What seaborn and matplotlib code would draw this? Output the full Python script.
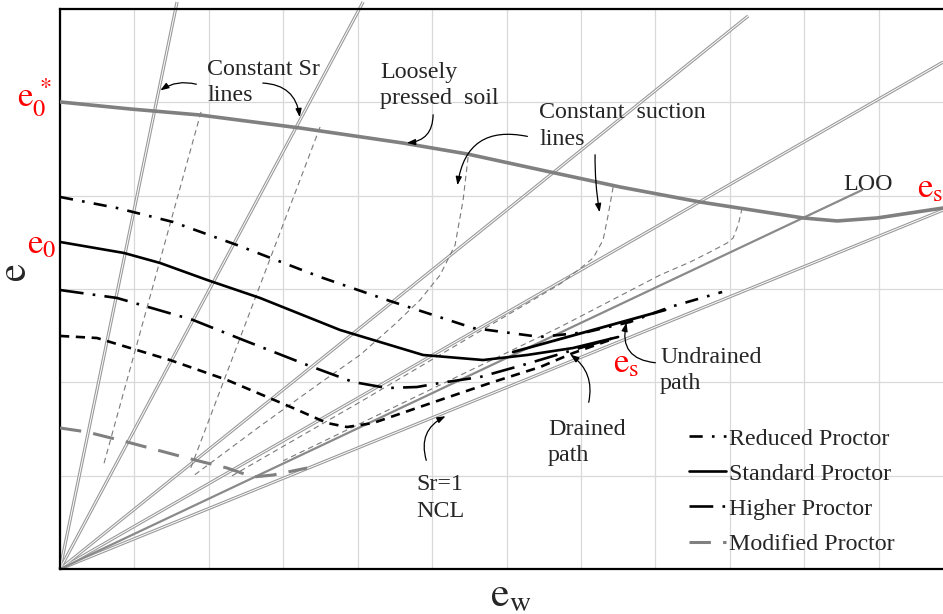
import numpy as np
import pandas as pd
import matplotlib
matplotlib.use("Agg")
import matplotlib.pyplot as plt
import seaborn as sns
from matplotlib.lines import Line2D

sns.set_style("white")
plt.rcParams['font.family'] = ['Liberation Serif', 'DejaVu Serif']
plt.rcParams['mathtext.fontset'] = 'stix'

# ---------------- data (chart units: e_w on x 0..12, e on y 0..6) ----------------
# constant Sr rays from the origin (end points)
sr_end_x = [1.573, 4.073, 9.247, 11.868]
sr_end_y = [6.075, 6.075, 5.925, 5.432]
ncl_end_x, ncl_end_y = 11.868, 3.846          # Sr = 1 (NCL)
loo_end_x, loo_end_y = 10.78, 4.061           # LOO line

# loosely pressed soil curve (e0* -> es0)
lps_x = [0, 0.941, 1.882, 3.226, 4.610, 5.470, 6.586, 7.527, 8.602, 9.987, 10.444, 10.981, 11.868]
lps_y = [5.004, 4.929, 4.864, 4.725, 4.564, 4.447, 4.254, 4.093, 3.932, 3.761, 3.729, 3.761, 3.868]

# compaction curves
red_x = [0, 0.766, 1.519, 2.379, 3.495, 4.395, 5.551, 6.452, 7.083, 7.661, 8.199, 8.898]
red_y = [3.986, 3.868, 3.718, 3.471, 3.129, 2.882, 2.582, 2.486, 2.539, 2.647, 2.807, 2.968]
std_x = [0, 0.860, 1.344, 1.976, 2.688, 3.763, 4.879, 5.685, 6.277, 6.895, 7.500]
std_y = [3.504, 3.386, 3.279, 3.097, 2.904, 2.561, 2.293, 2.239, 2.293, 2.368, 2.486]
hig_x = [0, 0.766, 1.788, 2.460, 3.320, 3.938, 4.395, 4.798, 5.108, 5.645, 6.223, 6.895, 7.487]
hig_y = [2.989, 2.904, 2.668, 2.454, 2.186, 2.004, 1.939, 1.950, 1.993, 2.057, 2.186, 2.346, 2.486]
dsh_x = [0, 0.497, 1.478, 2.245, 3.132, 3.589, 3.858, 4.207, 5.108, 5.780, 6.452, 6.895, 7.392]
dsh_y = [2.497, 2.475, 2.239, 2.025, 1.725, 1.564, 1.521, 1.564, 1.811, 1.993, 2.164, 2.314, 2.454]
mod_x = [0, 0.363, 0.901, 1.707, 2.245, 2.594, 2.863, 3.320]
mod_y = [1.511, 1.468, 1.361, 1.189, 1.082, 0.986, 1.007, 1.082]
und_x = [6.089, 8.132]
und_y = [2.325, 2.775]

# constant suction lines
s1_x = [1.895, 0.578]
s1_y = [4.897, 1.093]
s2_x = [3.495, 1.747]
s2_y = [4.736, 1.061]
s3_x = [5.484, 5.417, 5.309, 5.108, 4.839, 4.503, 4.032, 3.495, 2.688, 1.788]
s3_y = [4.414, 3.954, 3.471, 3.150, 2.882, 2.625, 2.293, 1.993, 1.530, 0.996]
s4_x = [7.433, 7.366, 7.298, 7.164, 7.016, 6.720, 4.032, 2.285]
s4_y = [4.093, 3.793, 3.525, 3.332, 3.236, 3.054, 1.789, 0.986]
s5_x = [9.167, 9.113, 9.046, 8.965, 8.737, 8.468, 8.065, 6.720, 3.000]
s5_y = [3.868, 3.686, 3.547, 3.493, 3.397, 3.289, 3.150, 2.593, 1.160]

legend_labels = ["Reduced Proctor", "Standard Proctor", "Higher Proctor", "Modified Proctor"]

# ---------------- figure ----------------
W, H = 943, 614
fig = plt.figure(figsize=(W / 100, H / 100), dpi=100)
ax = fig.add_axes([60 / W, 45 / H, 893 / W, 560 / H])
ax.set_xlim(0, 12)
ax.set_ylim(0, 6)
ax.set_xticks(range(13))
ax.set_yticks(range(7))
ax.tick_params(length=0, labelbottom=False, labelleft=False)
ax.grid(True, color="#d9d9d9", lw=0.9)
ax.set_axisbelow(True)
for s in ["left", "bottom", "top"]:
    ax.spines[s].set_color("black")
    ax.spines[s].set_linewidth(1.6)
ax.spines["right"].set_visible(False)


def px(x, y):
    return (x - 60) / 74.4, (569 - y) / 93.33


def double_line(x1, y1):
    ax.plot([0, x1], [0, y1], color="#9a9a9a", lw=2.3, clip_on=False, zorder=2,
            solid_capstyle="butt")
    ax.plot([0, x1], [0, y1], color="white", lw=0.7, clip_on=False, zorder=2.1,
            solid_capstyle="butt")


for xe, ye in zip(sr_end_x, sr_end_y):
    double_line(xe, ye)
double_line(ncl_end_x, ncl_end_y)
sns.lineplot(x=[0, loo_end_x], y=[0, loo_end_y], sort=False, estimator=None, ax=ax,
             color="#8a8a8a", lw=1.6, zorder=2.2)

suction_style = dict(color="#7a7a7a", lw=0.8, linestyle=(0, (5, 3.5)), zorder=2.5)
for sx, sy in [(s1_x, s1_y), (s2_x, s2_y), (s3_x, s3_y), (s4_x, s4_y), (s5_x, s5_y)]:
    sns.lineplot(x=sx, y=sy, sort=False, estimator=None, ax=ax, **suction_style)

sns.lineplot(x=lps_x, y=lps_y, sort=False, estimator=None, ax=ax,
             color="#808080", lw=2.6, zorder=3)

red_ls = (0, (5, 3.5, 1, 3.5))
hig_ls = (0, (9, 3.5, 1, 3.5))
mod_ls = (0, (7, 4))
sns.lineplot(x=red_x, y=red_y, sort=False, estimator=None, ax=ax, color="black", lw=1.9,
             linestyle=red_ls, zorder=4)
sns.lineplot(x=std_x, y=std_y, sort=False, estimator=None, ax=ax, color="black", lw=1.9,
             zorder=4)
sns.lineplot(x=hig_x, y=hig_y, sort=False, estimator=None, ax=ax, color="black", lw=1.9,
             linestyle=hig_ls, zorder=4)
sns.lineplot(x=dsh_x, y=dsh_y, sort=False, estimator=None, ax=ax, color="black", lw=1.9,
             linestyle=(0, (3.5, 2.5)), zorder=4)
sns.lineplot(x=mod_x, y=mod_y, sort=False, estimator=None, ax=ax, color="#808080", lw=2.2,
             linestyle=mod_ls, zorder=4)
sns.lineplot(x=und_x, y=und_y, sort=False, estimator=None, ax=ax, color="black", lw=2.0,
             zorder=4)

# ---------------- texts ----------------
fs = 17.3


def txt(x, y, s, **kw):
    ax.text(*px(x, y), s, fontsize=kw.pop("fontsize", fs), va="baseline", ha="left",
            clip_on=False, **kw)


txt(207, 75, "Constant Sr")
txt(207, 101, "lines")
txt(380, 78, "Loosely")
txt(380, 104, "pressed  soil")
txt(539, 118, "Constant  suction")
txt(539, 145, "lines")
txt(843, 190, "LOO")
txt(660, 363, "Undrained")
txt(660, 389, "path")
txt(548, 435, "Drained")
txt(548, 461, "path")
txt(416, 490, "Sr=1")
txt(416, 517, "NCL")

rfs = 25
txt(17, 107, r"$\mathrm{e}_0^{\,*}$", color="red", fontsize=rfs)
txt(27, 253, r"$\mathrm{e}_0$", color="red", fontsize=rfs)
txt(917, 197, r"$\mathrm{e}_{\mathrm{s0}}$", color="red", fontsize=rfs)
txt(613, 372, r"$\mathrm{e}_{\mathrm{s}}$", color="red", fontsize=rfs)

fig.text(17 / W, 1 - 272 / H, r"$\mathrm{e}$", rotation=90, ha="center", va="center",
         fontsize=29)
fig.text(490 / W, 1 - 605 / H, r"$\mathrm{e}_{\mathrm{w}}$", ha="left", va="baseline",
         fontsize=30)

# ---------------- annotation arrows ----------------
def arrow(x0, y0, x1, y1, rad):
    ax.annotate("", xy=px(x1, y1), xytext=px(x0, y0), annotation_clip=False,
                arrowprops=dict(arrowstyle="-|>,head_length=0.5,head_width=0.18",
                                color="black", lw=0.9,
                                connectionstyle=f"arc3,rad={rad}"), zorder=6)


arrow(199, 85, 158, 92, 0.25)
arrow(260, 83, 300, 120, -0.45)
arrow(433, 112, 404, 143, -0.5)
arrow(530, 137, 457, 188, 0.55)
arrow(595, 152, 600, 215, 0.05)
arrow(427, 463, 448, 415, -0.45)
arrow(588, 405, 568, 353, 0.35)
arrow(658, 363, 627, 320, -0.6)

# ---------------- legend ----------------
handles = [
    Line2D([], [], color="black", lw=1.9, linestyle=red_ls),
    Line2D([], [], color="black", lw=1.9),
    Line2D([], [], color="black", lw=1.9, linestyle=hig_ls),
    Line2D([], [], color="#808080", lw=2.2, linestyle=mod_ls),
]
leg = ax.legend(handles, legend_labels, loc="upper left",
                bbox_to_anchor=(629 / 893, 1 - (428 - 9) / 560),
                frameon=False, fontsize=fs, handlelength=1.55, handletextpad=0.1,
                labelspacing=0.55, borderaxespad=0, borderpad=0)

fig.savefig("out.png", dpi=100)
